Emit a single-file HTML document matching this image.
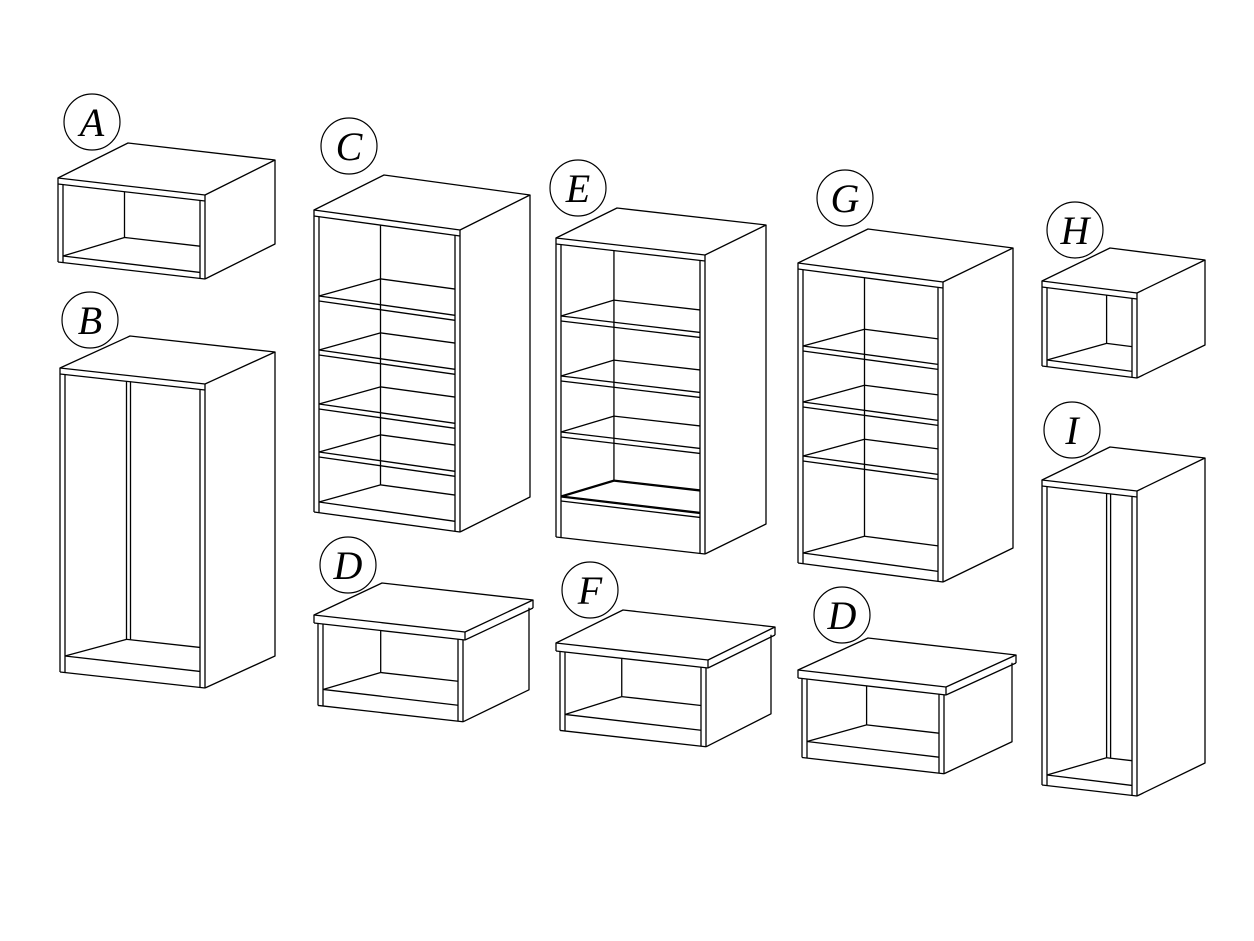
<!DOCTYPE html>
<html><head><meta charset="utf-8"><style>
html,body{margin:0;padding:0;background:#fff;width:1254px;height:941px;overflow:hidden}
svg{display:block}
</style></head><body>
<svg id="s" width="1254" height="941" viewBox="0 0 1254 941" xmlns="http://www.w3.org/2000/svg">
<g id="g" fill="none" stroke="#000" stroke-width="1.3" stroke-linejoin="round"></g>
<g font-family="Liberation Serif, serif" font-style="italic" font-size="40" text-anchor="middle" fill="#000">
<circle cx="92" cy="122" r="28" fill="none" stroke="#000" stroke-width="1.2"/><text x="92" y="136">A</text>
<circle cx="90" cy="320" r="28" fill="none" stroke="#000" stroke-width="1.2"/><text x="90" y="334">B</text>
<circle cx="349" cy="146" r="28" fill="none" stroke="#000" stroke-width="1.2"/><text x="349" y="160">C</text>
<circle cx="348" cy="565" r="28" fill="none" stroke="#000" stroke-width="1.2"/><text x="348" y="579">D</text>
<circle cx="578" cy="188" r="28" fill="none" stroke="#000" stroke-width="1.2"/><text x="578" y="202">E</text>
<circle cx="590" cy="590" r="28" fill="none" stroke="#000" stroke-width="1.2"/><text x="590" y="604">F</text>
<circle cx="845" cy="198" r="28" fill="none" stroke="#000" stroke-width="1.2"/><text x="845" y="212">G</text>
<circle cx="842" cy="615" r="28" fill="none" stroke="#000" stroke-width="1.2"/><text x="842" y="629">D</text>
<circle cx="1075" cy="230" r="28" fill="none" stroke="#000" stroke-width="1.2"/><text x="1075" y="244">H</text>
<circle cx="1072" cy="430" r="28" fill="none" stroke="#000" stroke-width="1.2"/><text x="1072" y="444">I</text>
</g>
</svg>
<script>
var out=[];
function L(a,b,c,d){out.push('<line x1="'+a+'" y1="'+b+'" x2="'+c+'" y2="'+d+'"/>');}
function P(pts,close){out.push('<'+(close?'polygon':'polyline')+' points="'+pts.map(function(p){return p[0]+','+p[1]}).join(' ')+'"/>');}
function cab(x0,y0,x1,y1,dx,dy,h,sh,o){
 o=o||{};var s=(y1-y0)/(x1-x0),t=5;
 function Y(x,base){return base+(x-x0)*s;}
 if(!o.noTop){P([[x0,y0],[x1,y1],[x1+dx,y1+dy],[x0+dx,y0+dy]],true);L(x0,y0+6,x1,y1+6);}
 L(x0,y0,x0,y0+h);L(x0+t,Y(x0+t,y0+(o.noTop?0:6)),x0+t,Y(x0+t,y0+h));
 L(x1,y1,x1,y1+h);L(x1-t,Y(x1-t,y0+(o.noTop?0:6)),x1-t,Y(x1-t,y0+h));
 L(x0,y0+h,x1,y1+h);
 P([[x1,y1+h],[x1+dx,y1+dy+h],[x1+dx,y1+dy]]);
 var bt=o.bt||14;
 L(x0+t,y0+h-bt,x1-t,Y(x1-t,y0+h-bt));
 var bx=x0+dx*0.95, ky=dy*0.75;
 var yb=Y(bx,y0+h-bt)+ky;
 L(bx,Y(bx,y0+(o.noTop?0:6)),bx,yb);
 L(x0+t,y0+h-bt,bx,yb);L(bx,yb,x1-t,Y(x1-t,y0+h-bt)+ky);
 if(o.div){L(bx+4,Y(bx,y0+6),bx+4,yb);}
 (sh||[]).forEach(function(v){
  var yy=y0+v;
  L(x0+t,yy,x1-t,Y(x1-t,yy));L(x0+t,yy+5,x1-t,Y(x1-t,yy+5));
  L(x0+t,yy,bx,Y(bx,yy)+ky);L(bx,Y(bx,yy)+ky,x1-t,Y(x1-t,yy)+ky);
 });
}
function low(x0,y0,x1,y1,dx,dy,h){
 var s=(y1-y0)/(x1-x0);
 P([[x0,y0],[x1,y1],[x1+dx,y1+dy],[x0+dx,y0+dy]],true);
 L(x0,y0,x0,y0+8);L(x1,y1,x1,y1+8);L(x0,y0+8,x1,y1+8);L(x1,y1+8,x1+dx,y1+dy+8);L(x1+dx,y1+dy,x1+dx,y1+dy+8);
 var a=x0+4,b=x1-2;
 cab(a,y0+8+(a-x0)*s,b,y1+8+(b-x1)*s,dx-2,dy,h,[],{bt:16,noTop:1});
}
cab(58,178,205,195,70,-35,84,[],{bt:6});
cab(60,368,205,384,70,-32,304,[],{bt:16,div:1});
cab(314,210,460,230,70,-35,302,[86,140,194,242],{bt:10});
cab(556,238,705,255,61,-30,299,[78,138,194,258],{bt:40});
cab(798,263,943,282,70,-34,300,[83,139,193],{bt:10});
cab(1042,281,1137,293,68,-33,85,[],{bt:6});
cab(1042,480,1137,491,68,-33,305,[],{bt:10,div:1});
low(314,615,465,632,68,-32,82);
low(556,643,708,660,67,-33,79);
low(798,670,946,687,70,-32,79);
document.getElementById('g').innerHTML=out.join('');
</script>
</body></html>
